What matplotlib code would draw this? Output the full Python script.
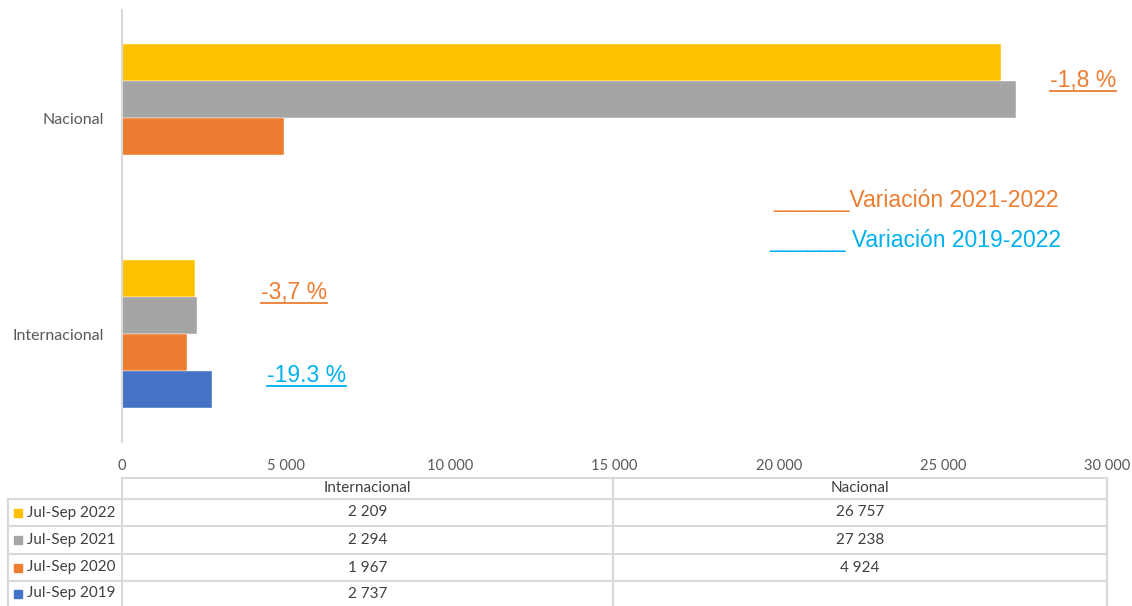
import numpy as np
import matplotlib
matplotlib.use("Agg")
import matplotlib.pyplot as plt
from matplotlib.lines import Line2D
from matplotlib.patches import Rectangle

# Datos
categorias = ["Internacional", "Nacional"]
series = ["Jul-Sep 2022", "Jul-Sep 2021", "Jul-Sep 2020", "Jul-Sep 2019"]
v2022 = [2209, 26757]
v2021 = [2294, 27238]
v2020 = [1967, 4924]
v2019 = [2737, np.nan]
colores = ["#FFC000", "#A5A5A5", "#ED7D31", "#4472C4"]
ticks_x = [0, 5000, 10000, 15000, 20000, 25000, 30000]

W, H = 1132, 606
fig = plt.figure(figsize=(W / 100, H / 100), dpi=100)


def fx(px):
    return px / W


def fy(py):
    return 1 - py / H


def miles(v):
    return f"{int(v):,}".replace(",", " ")


ax = fig.add_axes([fx(122), fy(442), fx(1107) - fx(122), fy(10) - fy(442)])

valores = [v2022, v2021, v2020, v2019]
h = 0.172
offs = [1.5 * h, 0.5 * h, -0.5 * h, -1.5 * h]
y = np.arange(len(categorias))
for vals, off, col in zip(valores, offs, colores):
    ax.barh(y + off, vals, height=h, color=col, edgecolor="white", linewidth=0.3)

ax.set_xlim(0, 30000)
ax.set_ylim(-0.5, 1.5)
ax.set_xticks(ticks_x)
ax.set_xticklabels([miles(t) for t in ticks_x])
ax.set_yticks(y)
ax.set_yticklabels(categorias)
for s in ["top", "right", "bottom"]:
    ax.spines[s].set_visible(False)
ax.spines["left"].set_color("#D9D9D9")
ax.spines["left"].set_linewidth(1.5)
ax.tick_params(axis="x", length=0, pad=12, labelsize=10.5, labelcolor="#595959")
ax.tick_params(axis="y", length=0, pad=13, labelsize=11.5, labelcolor="#595959")
for lab in ax.get_xticklabels() + ax.get_yticklabels():
    lab.set_family(["Lato", "DejaVu Sans"])

# Variaciones
var_nac = (v2022[1] - v2021[1]) / v2021[1] * 100
var_int = (v2022[0] - v2021[0]) / v2021[0] * 100
var_int19 = (v2022[0] - v2019[0]) / v2019[0] * 100

naranja = "#ED7D31"
azul = "#00B0F0"
etiquetas = [
    (1050, 87, f"{var_nac:.1f} %".replace(".", ","), naranja, True),
    (261, 299, f"{var_int:.1f} %".replace(".", ","), naranja, True),
    (267, 382, f"{var_int19:.1f} %", azul, True),
    (773, 207, "______Variación 2021-2022", naranja, False),
    (769, 247, "______ Variación 2019-2022", azul, False),
]
textos = []
for px, py, t, c, sub in etiquetas:
    tx = fig.text(fx(px), fy(py), t, color=c, fontsize=16.5, family="Liberation Sans",
                  ha="left", va="baseline")
    textos.append((tx, py, c, sub))

fig.canvas.draw()
r = fig.canvas.get_renderer()
for tx, py, c, sub in textos:
    if sub:
        bb = tx.get_window_extent(r)
        fig.add_artist(Line2D([bb.x0 / W, bb.x1 / W], [fy(py + 3.5)] * 2,
                              color=c, lw=1.3, transform=fig.transFigure))

# Tabla de datos
gris = "#D9D9D9"
lw = 1.5
col_x = [8, 122, 613, 1107]
fila_y = [478, 499, 526, 554, 581, 606]


def hline(x0, x1, yy):
    fig.add_artist(Line2D([fx(x0), fx(x1)], [fy(yy)] * 2, color=gris, lw=lw,
                          transform=fig.transFigure))


def vline(xx, y0, y1):
    fig.add_artist(Line2D([fx(xx)] * 2, [fy(y0), fy(y1)], color=gris, lw=lw,
                          transform=fig.transFigure))


hline(col_x[1], col_x[3], fila_y[0])
for yy in fila_y[1:-1]:
    hline(col_x[0], col_x[3], yy)
vline(col_x[0], fila_y[1], fila_y[-1])
for xx in col_x[1:]:
    vline(xx, fila_y[0], fila_y[-1])

fuente_tabla = ["Lato", "DejaVu Sans"]
for j, cat in enumerate(categorias):
    cx = (col_x[j + 1] + col_x[j + 2]) / 2
    fig.text(fx(cx), fy((fila_y[0] + fila_y[1]) / 2), cat, ha="center", va="center",
             fontsize=11, color="#404040", family=fuente_tabla)

for i, (nombre, vals, col) in enumerate(zip(series, valores, colores)):
    yc = (fila_y[i + 1] + fila_y[i + 2]) / 2
    fig.add_artist(Rectangle((fx(14), fy(yc + 4)), fx(8), 8 / H, color=col,
                             transform=fig.transFigure))
    fig.text(fx(27), fy(yc), nombre, ha="left", va="center", fontsize=11,
             color="#404040", family=fuente_tabla)
    for j, v in enumerate(vals):
        if np.isnan(v):
            continue
        cx = (col_x[j + 1] + col_x[j + 2]) / 2
        fig.text(fx(cx), fy(yc), miles(v), ha="center",
                 va="center", fontsize=11, color="#404040", family=fuente_tabla)

fig.savefig("out.png", dpi=100)
